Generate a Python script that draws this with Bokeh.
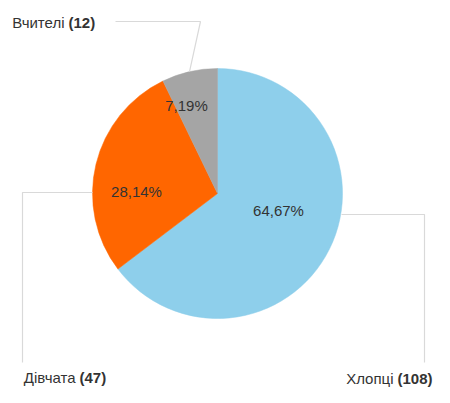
import math
from bokeh.plotting import figure
from bokeh.models import Range1d
from bokeh.core.properties import value
from bokeh.embed import file_html
from bokeh.resources import INLINE

# ---- data ----
categories = ["Хлопці", "Дівчата", "Вчителі"]
counts = [108, 47, 12]
percent_labels = ["64,67%", "28,14%", "7,19%"]
colors = ["#8ECFEB", "#FF6600", "#A5A5A5"]

# ---- layout (reference pixel coordinates, y measured from top) ----
PAGE_H = 403
CX, CY, R = 217, 193, 125
pct_pos = [(278, 210), (136, 191), (186, 105)]
# label: (x where bold count starts, y centre)
label_pos = [(397, 378), (79, 377), (68, 22)]
leaders = [
    [(341, 214), (424, 214), (424, 362)],
    [(92, 192), (22, 192), (22, 362)],
    [(115, 21), (200, 21), None],
]

FONT = "Liberation Sans"
TXT = "#333333"


def Y(py):
    return PAGE_H - py


p = figure(width=434, height=387, x_range=Range1d(0, 434), y_range=Range1d(16, 403),
           output_backend="svg", toolbar_location=None, min_border=0)
p.axis.visible = False
p.grid.visible = False
p.outline_line_color = None
p.background_fill_color = "white"
p.border_fill_color = "white"

total = sum(counts)
cum = 0.0
mids = []
for i, c in enumerate(counts):
    f0 = cum / total
    cum += c
    f1 = cum / total
    start = math.pi / 2 - 2 * math.pi * f0
    end = math.pi / 2 - 2 * math.pi * f1
    mids.append((start + end) / 2)
    p.wedge(x=[CX], y=[Y(CY)], radius=R, start_angle=[start], end_angle=[end],
            direction="clock", fill_color=colors[i], line_color=colors[i], line_width=0.5)

# leader lines
for i, pts in enumerate(leaders):
    pts = list(pts)
    if pts[-1] is None:
        a = mids[i]
        pts[-1] = (CX + R * math.cos(a), CY - R * math.sin(a))
    p.line(x=[q[0] for q in pts], y=[Y(q[1]) for q in pts], line_color="#D9D9D9", line_width=1.2)

# percent labels
for i, t in enumerate(percent_labels):
    x, y = pct_pos[i]
    p.text(x=[x], y=[Y(y)], text=[t], text_font=value(FONT), text_font_size="15px",
           text_color=TXT, text_align="center", text_baseline="middle")

# category labels
for i, name in enumerate(categories):
    x, y = label_pos[i]
    p.text(x=[x - 4], y=[Y(y)], text=[name], text_font=value(FONT), text_font_size="15px",
           text_color=TXT, text_align="right", text_baseline="middle")
    p.text(x=[x], y=[Y(y)], text=["(%d)" % counts[i]], text_font=value(FONT), text_font_size="15px",
           text_font_style="bold", text_color=TXT, text_align="left", text_baseline="middle")

open("out.html", "w").write(file_html(p, INLINE))
